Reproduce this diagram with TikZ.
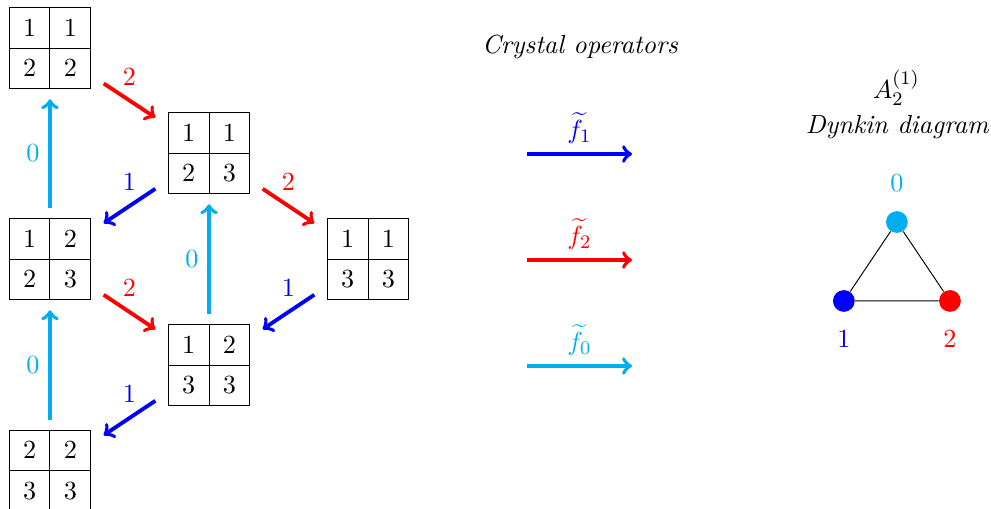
\documentclass[tikz,border=0pt,11pt]{standalone}
\usepackage{amsmath}
\usetikzlibrary{matrix}
\definecolor{colzero}{RGB}{0,174,239}
\tikzset{
    tableau/.style={ % 2x2 Young tableau
        matrix of math nodes,
        inner sep=0pt,
        column sep=-\pgflinewidth,
        row sep=-\pgflinewidth,
        nodes={draw, minimum size=0.6cm, inner sep=0pt, anchor=center}
    },
    op/.style={ % crystal operator arrow
        ->, ultra thick,
        shorten >=#1, shorten <=#1
    },
    op/.default=6pt,
    dnode/.style={ % Dynkin diagram vertex
        circle, fill,
        minimum size=0.32cm,
        inner sep=0pt
    }
}

\begin{document}
\begin{tikzpicture}
        \useasboundingbox (0,0) rectangle (14.574,-7.485);

        % tableaux
        \matrix (t1) [tableau] at (0.735,-0.706) {1 & 1\\ 2 & 2\\};
        \matrix (t2) [tableau] at (3.074,-2.25) {1 & 1\\ 2 & 3\\};
        \matrix (t3) [tableau] at (0.735,-3.809) {1 & 2\\ 2 & 3\\};
        \matrix (t4) [tableau] at (5.412,-3.809) {1 & 1\\ 3 & 3\\};
        \matrix (t5) [tableau] at (3.074,-5.368) {1 & 2\\ 3 & 3\\};
        \matrix (t6) [tableau] at (0.735,-6.926) {2 & 2\\ 3 & 3\\};

        % crystal graph
        \draw[op, red] (t1) -- node[above=2pt] {$2$} (t2);
        \draw[op, blue] (t2) -- node[above=2pt] {$1$} (t3);
        \draw[op, red] (t2) -- node[above=2pt] {$2$} (t4);
        \draw[op, red] (t3) -- node[above=2pt] {$2$} (t5);
        \draw[op, blue] (t4) -- node[above=2pt] {$1$} (t5);
        \draw[op, blue] (t5) -- node[above=2pt] {$1$} (t6);
        \draw[op=4pt, colzero] (t3) -- node[left=0pt] {$0$} (t1);
        \draw[op=4pt, colzero] (t5) -- node[left=0pt] {$0$} (t2);
        \draw[op=4pt, colzero] (t6) -- node[left=0pt] {$0$} (t3);

        % legend
        \node (title) at (8.53,-0.69) {\textit{Crystal operators}};
        \coordinate (f1s) at (7.75,-2.265);
        \coordinate (f1e) at (9.294,-2.265);
        \coordinate (f2s) at (7.75,-3.824);
        \coordinate (f2e) at (9.294,-3.824);
        \coordinate (f0s) at (7.75,-5.382);
        \coordinate (f0e) at (9.294,-5.382);
        \draw[op=0pt, blue] (f1s) -- node[above] {$\widetilde{f}_1$} (f1e);
        \draw[op=0pt, red] (f2s) -- node[above] {$\widetilde{f}_2$} (f2e);
        \draw[op=0pt, colzero] (f0s) -- node[above] {$\widetilde{f}_0$} (f0e);

        % Dynkin diagram
        \node (aff) at (13.18,-1.294) {$A_2^{(1)}$};
        \node (dyn) at (13.2,-1.868) {\textit{Dynkin diagram}};
        \node[dnode, colzero, label={[colzero, yshift=4pt]above:$0$}] (d0) at (13.19,-3.265) {};
        \node[dnode, blue, label={[blue, yshift=-4pt]below:$1$}] (d1) at (12.41,-4.426) {};
        \node[dnode, red, label={[red, yshift=-4pt]below:$2$}] (d2) at (13.97,-4.426) {};
        \draw (d0) -- (d1) -- (d2) -- (d0);
\end{tikzpicture}
\end{document}
